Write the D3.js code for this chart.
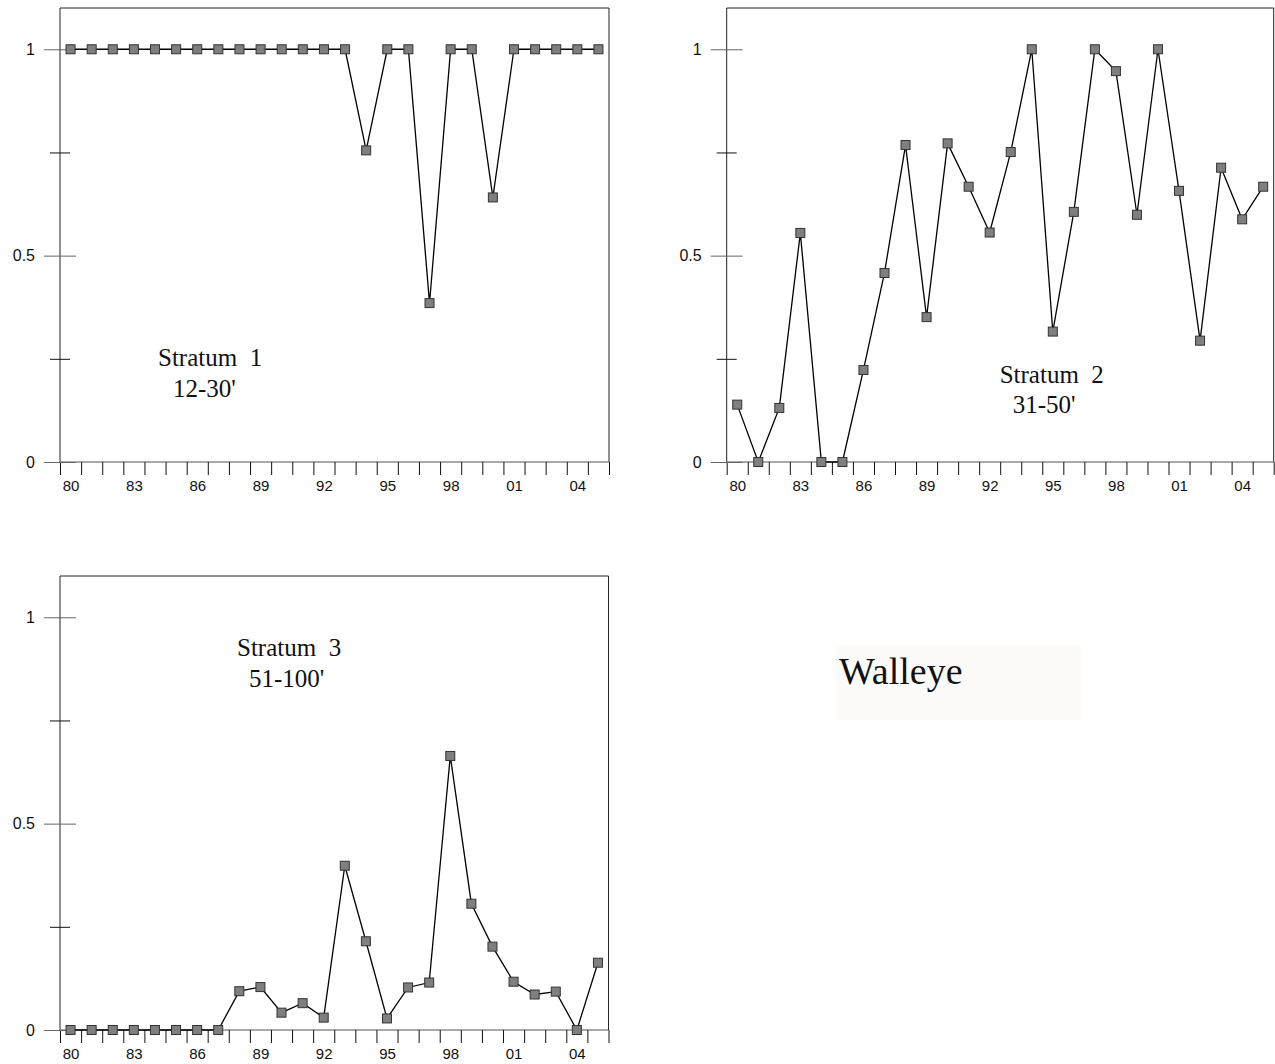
<!DOCTYPE html>
<html>
<head>
<meta charset="utf-8">
<script src="https://cdn.jsdelivr.net/npm/d3@7"></script>
<style>
  body { margin: 0; background: #fff; }
  svg { display: block; }
</style>
</head>
<body>
<svg id="chart" width="1275" height="1064"></svg>
<script>
// years 1980 - 2005
var years = [1980,1981,1982,1983,1984,1985,1986,1987,1988,1989,1990,1991,1992,
             1993,1994,1995,1996,1997,1998,1999,2000,2001,2002,2003,2004,2005]

var stratum1 = [1,1,1,1,1,1,1,1,1,1,1,1,1,1,0.755,1,1,0.385,1,1,0.641,1,1,1,1,1]
var stratum2 = [0.139,0,0.131,0.555,0,0,0.223,0.458,0.768,0.351,0.772,0.667,0.556,
                0.751,1,0.316,0.606,1,0.947,0.599,1,0.657,0.294,0.713,0.588,0.667]
var stratum3 = [0,0,0,0,0,0,0,0,0.094,0.104,0.042,0.065,0.030,0.398,0.215,0.028,
                0.103,0.115,0.664,0.306,0.202,0.117,0.086,0.093,0,0.163]

var labelYears = [1980,1983,1986,1989,1992,1995,1998,2001,2004]
var yearLabels = ["80","83","86","89","92","95","98","01","04"]
var majorTicks = [0, 0.5, 1]
var majorLabels = ["0", "0.5", "1"]
var minorTicks = [0.25, 0.75]

var panels = [
  {data: stratum1, left: 60, top: 8, width: 549,
   title: ["Stratum  1", "12-30'"], tx: [98, 113], ty: [358, 389]},
  {data: stratum2, left: 726.7, top: 8, width: 547,
   title: ["Stratum  2", "31-50'"], tx: [273, 286], ty: [375, 405]},
  {data: stratum3, left: 60, top: 576, width: 548.5,
   title: ["Stratum  3", "51-100'"], tx: [177, 189], ty: [80, 111]}
]
var height = 454
var sans = "'Liberation Sans', Arial, Helvetica, sans-serif"
var serif = "'Liberation Serif', 'Times New Roman', serif"

var svg = d3.select("#chart")

panels.forEach(function(p) {
  var g = svg.append("g").attr("transform", "translate(" + p.left + "," + p.top + ")")

  var x = d3.scaleLinear().domain([1979.5, 2005.5]).range([0, p.width])
  var y = d3.scaleLinear().domain([0, 1.1]).range([height, 0])

  // frame: left, top, right
  g.append("path")
    .attr("d", "M0," + y(0) + "V0H" + p.width + "V" + y(0))
    .attr("fill", "none").attr("stroke", "#222").attr("stroke-width", 1)

  // bottom axis line
  g.append("line")
    .attr("x1", 0).attr("x2", p.width)
    .attr("y1", y(0)).attr("y2", y(0))
    .attr("stroke", "#555").attr("stroke-width", 1)

  // x ticks at year boundaries
  var edges = years.map(function(d) { return d - 0.5 }).concat([2005.5])
  var xt = g.append("g")
    .attr("transform", "translate(0," + y(0) + ")")
    .call(d3.axisBottom(x).tickValues(edges).tickSize(13).tickFormat(""))
  xt.select(".domain").remove()
  xt.selectAll("line").attr("stroke", "#111")

  var xl = g.append("g")
    .attr("transform", "translate(0," + y(0) + ")")
    .call(d3.axisBottom(x).tickValues(labelYears).tickSize(0).tickPadding(18)
      .tickFormat(function(d, i) { return yearLabels[i] }))
  xl.select(".domain").remove()
  xl.selectAll("text")
    .style("font-family", sans).style("font-size", "15px").style("fill", "#111")

  // y major ticks (crossing the axis) with labels
  var yl = g.append("g")
    .call(d3.axisLeft(y).tickValues(majorTicks).tickSize(16).tickPadding(9)
      .tickFormat(function(d, i) { return majorLabels[i] }))
  yl.select(".domain").remove()
  yl.selectAll("line").attr("stroke", "#666")
  yl.selectAll("text")
    .style("font-family", sans).style("font-size", "16px").style("fill", "#111")
  var yr = g.append("g")
    .call(d3.axisRight(y).tickValues(majorTicks).tickSize(16).tickFormat(""))
  yr.select(".domain").remove()
  yr.selectAll("line").attr("stroke", "#666")

  // y minor ticks
  var ym = g.append("g")
    .call(d3.axisLeft(y).tickValues(minorTicks).tickSize(10).tickFormat(""))
  ym.select(".domain").remove()
  ym.selectAll("line").attr("stroke", "#111")
  var ym2 = g.append("g")
    .call(d3.axisRight(y).tickValues(minorTicks).tickSize(10).tickFormat(""))
  ym2.select(".domain").remove()
  ym2.selectAll("line").attr("stroke", "#111")

  // line
  var line = d3.line()
    .x(function(d, i) { return x(years[i]) })
    .y(function(d) { return y(d) })
  g.append("path")
    .datum(p.data)
    .attr("d", line)
    .attr("fill", "none")
    .attr("stroke", "#000")
    .attr("stroke-width", 1.3)

  // square markers
  var s = 9
  g.selectAll("rect.pt")
    .data(p.data)
    .enter()
    .append("rect")
      .attr("class", "pt")
      .attr("x", function(d, i) { return x(years[i]) - s / 2 })
      .attr("y", function(d) { return y(d) - s / 2 })
      .attr("width", s)
      .attr("height", s)
      .attr("fill", "#7f7f7f")
      .attr("stroke", "#333")
      .attr("stroke-width", 1)

  // stratum title
  p.title.forEach(function(t, i) {
    g.append("text")
      .attr("x", p.tx[i])
      .attr("y", p.ty[i])
      .style("font-family", serif)
      .style("font-size", "25px")
      .style("fill", "#111")
      .style("white-space", "pre")
      .text(t)
  })
})

// species label
svg.append("rect")
  .attr("x", 837).attr("y", 646)
  .attr("width", 244).attr("height", 74)
  .attr("fill", "#fcfbf9")
svg.append("text")
  .attr("x", 839).attr("y", 684)
  .style("font-family", serif)
  .style("font-size", "38px")
  .style("fill", "#111")
  .text("Walleye")
</script>
</body>
</html>
